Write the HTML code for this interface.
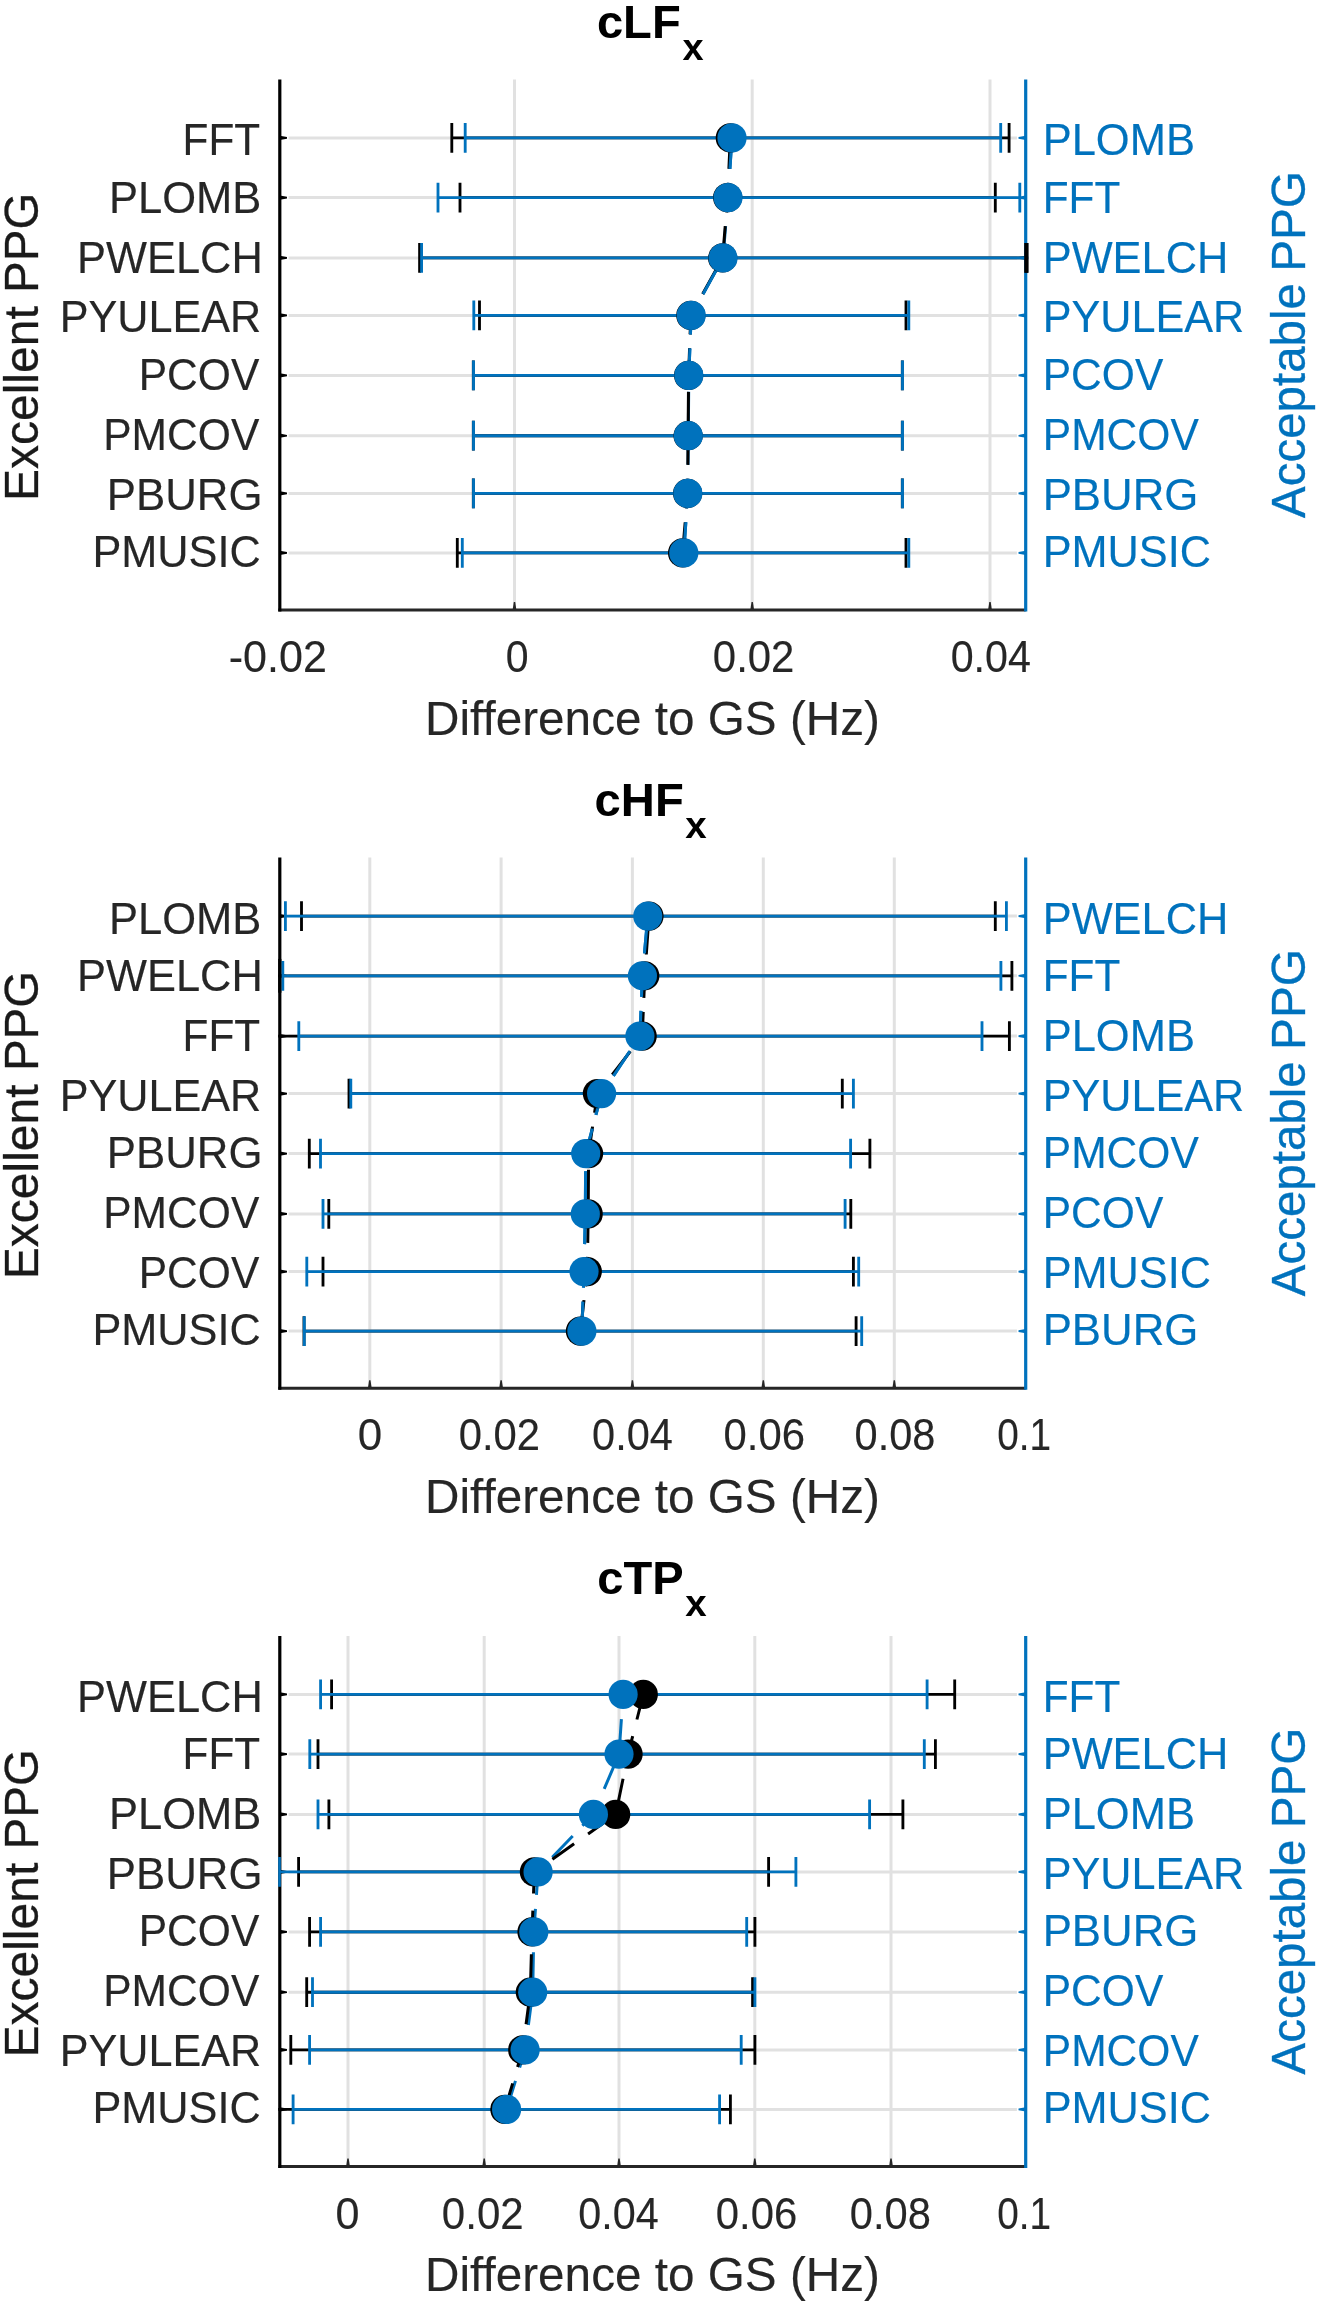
<!DOCTYPE html>
<html><head><meta charset="utf-8"><title>chart</title>
<style>html,body{margin:0;padding:0;background:#fff}svg{display:block}text{font-family:"Liberation Sans",sans-serif;white-space:pre}</style></head>
<body>
<svg width="1319" height="2305" viewBox="0 0 1319 2305" font-family="'Liberation Sans', sans-serif">
<rect width="1319" height="2305" fill="#ffffff"/>
<defs><filter id="soft" x="0" y="0" width="100%" height="100%" filterUnits="userSpaceOnUse" color-interpolation-filters="sRGB"><feGaussianBlur stdDeviation="0.4"/></filter><filter id="softT" x="0" y="0" width="100%" height="100%" filterUnits="userSpaceOnUse" color-interpolation-filters="sRGB"><feGaussianBlur stdDeviation="0.7"/></filter></defs>
<g filter="url(#soft)">
<rect width="1319" height="2305" fill="#ffffff"/>
<g id="panel1">
<g stroke="#e1e1e1" stroke-width="3.0" fill="none">
<line x1="514.5" y1="79.4" x2="514.5" y2="610.0"/>
<line x1="752.2" y1="79.4" x2="752.2" y2="610.0"/>
<line x1="990.0" y1="79.4" x2="990.0" y2="610.0"/>
<line x1="288.6" y1="137.9" x2="1016.9" y2="137.9"/>
<line x1="288.6" y1="197.6" x2="1016.9" y2="197.6"/>
<line x1="288.6" y1="257.9" x2="1016.9" y2="257.9"/>
<line x1="288.6" y1="315.4" x2="1016.9" y2="315.4"/>
<line x1="288.6" y1="375.4" x2="1016.9" y2="375.4"/>
<line x1="288.6" y1="435.7" x2="1016.9" y2="435.7"/>
<line x1="288.6" y1="493.4" x2="1016.9" y2="493.4"/>
<line x1="288.6" y1="552.9" x2="1016.9" y2="552.9"/>
</g>
<g stroke="#262626" stroke-width="3" fill="none" stroke-linecap="butt">
<line x1="278.3" y1="610.0" x2="1025.7" y2="610.0"/>
</g>
<g fill="#262626" stroke="none">
<polygon points="512.6,610.0 516.4,610.0 515.2,602.0 513.8,602.0"/>
<polygon points="750.3,610.0 754.1,610.0 752.9,602.0 751.5,602.0"/>
<polygon points="988.1,610.0 991.9,610.0 990.7,602.0 989.3,602.0"/>
</g>
<g stroke="#000000" fill="none">
<line x1="279.8" y1="79.4" x2="279.8" y2="611.5" stroke-width="3.2"/>
<polygon points="279.8,135.8 279.8,140.0 287.0,138.7 287.0,137.1" fill="#000000" stroke="none"/>
<polygon points="279.8,195.5 279.8,199.7 287.0,198.4 287.0,196.8" fill="#000000" stroke="none"/>
<polygon points="279.8,255.8 279.8,260.0 287.0,258.7 287.0,257.1" fill="#000000" stroke="none"/>
<polygon points="279.8,313.3 279.8,317.5 287.0,316.2 287.0,314.6" fill="#000000" stroke="none"/>
<polygon points="279.8,373.3 279.8,377.5 287.0,376.2 287.0,374.6" fill="#000000" stroke="none"/>
<polygon points="279.8,433.6 279.8,437.8 287.0,436.5 287.0,434.9" fill="#000000" stroke="none"/>
<polygon points="279.8,491.3 279.8,495.5 287.0,494.2 287.0,492.6" fill="#000000" stroke="none"/>
<polygon points="279.8,550.8 279.8,555.0 287.0,553.7 287.0,552.1" fill="#000000" stroke="none"/>
</g>
<g stroke="#0072BD" fill="none">
<line x1="1025.7" y1="79.4" x2="1025.7" y2="611.5" stroke-width="3.2"/>
<polygon points="1025.7,135.8 1025.7,140.0 1018.5,138.7 1018.5,137.1" fill="#0072BD" stroke="none"/>
<polygon points="1025.7,195.5 1025.7,199.7 1018.5,198.4 1018.5,196.8" fill="#0072BD" stroke="none"/>
<polygon points="1025.7,255.8 1025.7,260.0 1018.5,258.7 1018.5,257.1" fill="#0072BD" stroke="none"/>
<polygon points="1025.7,313.3 1025.7,317.5 1018.5,316.2 1018.5,314.6" fill="#0072BD" stroke="none"/>
<polygon points="1025.7,373.3 1025.7,377.5 1018.5,376.2 1018.5,374.6" fill="#0072BD" stroke="none"/>
<polygon points="1025.7,433.6 1025.7,437.8 1018.5,436.5 1018.5,434.9" fill="#0072BD" stroke="none"/>
<polygon points="1025.7,491.3 1025.7,495.5 1018.5,494.2 1018.5,492.6" fill="#0072BD" stroke="none"/>
<polygon points="1025.7,550.8 1025.7,555.0 1018.5,553.7 1018.5,552.1" fill="#0072BD" stroke="none"/>
</g>
<clipPath id="clip0"><rect x="278.2" y="79.4" width="750.1" height="530.6"/></clipPath>
<g clip-path="url(#clip0)">
<g stroke="#000000" fill="none" stroke-width="2.85">
<path d="M451.8 137.9H1009.1M451.8 123.0V152.8M1009.1 123.0V152.8"/>
<path d="M460.0 197.6H995.3M460.0 182.7V212.5M995.3 182.7V212.5"/>
<path d="M419.6 257.9H1026.6M419.6 243.0V272.8M1026.6 243.0V272.8"/>
<path d="M479.5 315.4H906.0M479.5 300.5V330.3M906.0 300.5V330.3"/>
<path d="M473.3 375.4H902.3M473.3 360.5V390.3M902.3 360.5V390.3"/>
<path d="M473.3 435.7H902.3M473.3 420.8V450.6M902.3 420.8V450.6"/>
<path d="M473.3 493.4H902.3M473.3 478.5V508.3M902.3 478.5V508.3"/>
<path d="M457.3 552.9H906.0M457.3 538.0V567.8M906.0 538.0V567.8"/>
</g>
<g stroke="#0072BD" fill="none" stroke-width="2.85">
<path d="M465.2 137.9H1000.7M465.2 123.0V152.8M1000.7 123.0V152.8"/>
<path d="M438.0 197.6H1019.8M438.0 182.7V212.5M1019.8 182.7V212.5"/>
<path d="M421.6 257.9H1034.0M421.6 243.0V272.8M1034.0 243.0V272.8"/>
<path d="M473.8 315.4H908.8M473.8 300.5V330.3M908.8 300.5V330.3"/>
<path d="M473.5 375.4H902.5M473.5 360.5V390.3M902.5 360.5V390.3"/>
<path d="M473.5 435.7H902.5M473.5 420.8V450.6M902.5 420.8V450.6"/>
<path d="M473.5 493.4H902.5M473.5 478.5V508.3M902.5 478.5V508.3"/>
<path d="M462.3 552.9H908.8M462.3 538.0V567.8M908.8 538.0V567.8"/>
</g>
<polyline points="732.0,137.9 728.0,197.6 723.0,257.9 691.2,315.4 688.8,375.4 688.3,435.7 687.8,493.4 683.8,552.9" fill="none" stroke="#0072BD" stroke-width="3.0" stroke-dasharray="29.5 14" stroke-dashoffset="-1.5"/>
<polyline points="730.3,137.9 727.6,197.6 722.6,257.9 690.8,315.4 688.6,375.4 688.1,435.7 687.6,493.4 682.6,552.9" fill="none" stroke="#000000" stroke-width="3.0" stroke-dasharray="29.5 14" stroke-dashoffset="-1.5"/>
<clipPath id="bl0"><rect x="279.8" y="137.9" width="745.9000000000001" height="59.7"/><rect x="279.8" y="257.9" width="745.9000000000001" height="57.5"/><rect x="279.8" y="315.4" width="745.9000000000001" height="60.0"/><rect x="279.8" y="493.4" width="745.9000000000001" height="59.5"/></clipPath>
<g clip-path="url(#bl0)"><polyline points="732.0,137.9 728.0,197.6 723.0,257.9 691.2,315.4 688.8,375.4 688.3,435.7 687.8,493.4 683.8,552.9" fill="none" stroke="#0072BD" stroke-width="3.0" stroke-dasharray="29.5 14" stroke-dashoffset="-1.5"/></g>
<g fill="#000000" stroke="none">
<circle cx="730.3" cy="137.9" r="14.6"/>
<circle cx="727.6" cy="197.6" r="14.6"/>
<circle cx="722.6" cy="257.9" r="14.6"/>
<circle cx="690.8" cy="315.4" r="14.6"/>
<circle cx="688.6" cy="375.4" r="14.6"/>
<circle cx="688.1" cy="435.7" r="14.6"/>
<circle cx="687.6" cy="493.4" r="14.6"/>
<circle cx="682.6" cy="552.9" r="14.6"/>
</g>
<g fill="#0072BD" stroke="none">
<circle cx="732.0" cy="137.9" r="14.6"/>
<circle cx="728.0" cy="197.6" r="14.6"/>
<circle cx="723.0" cy="257.9" r="14.6"/>
<circle cx="691.2" cy="315.4" r="14.6"/>
<circle cx="688.8" cy="375.4" r="14.6"/>
<circle cx="688.3" cy="435.7" r="14.6"/>
<circle cx="687.8" cy="493.4" r="14.6"/>
<circle cx="683.8" cy="552.9" r="14.6"/>
</g>
</g>
<line x1="1026.4" y1="243.0" x2="1026.4" y2="272.8" stroke="#000000" stroke-width="4.4"/>
<g filter="url(#softT)">
<text transform="translate(596.90,37.90) scale(1.0288,1.0)" font-size="45.83" fill="#000000" font-weight="bold">cLF</text>
<text transform="translate(682.55,59.90) scale(1.0123,0.97)" font-size="37.5" fill="#000000" font-weight="bold">x</text>
<text transform="translate(182.57,155.40) scale(1.0156,1.08)" font-size="41.67" fill="#262626" stroke="#262626" stroke-width="0.15">FFT</text>
<text transform="translate(109.07,212.80) scale(1.0441,1.08)" font-size="41.67" fill="#262626" stroke="#262626" stroke-width="0.15">PLOMB</text>
<text transform="translate(77.08,272.60) scale(1.0418,1.08)" font-size="41.67" fill="#262626" stroke="#262626" stroke-width="0.15">PWELCH</text>
<text transform="translate(59.70,332.40) scale(1.0359,1.08)" font-size="41.67" fill="#262626" stroke="#262626" stroke-width="0.15">PYULEAR</text>
<text transform="translate(138.75,389.80) scale(1.0207,1.08)" font-size="41.67" fill="#262626" stroke="#262626" stroke-width="0.15">PCOV</text>
<text transform="translate(103.15,449.60) scale(1.0222,1.08)" font-size="41.67" fill="#262626" stroke="#262626" stroke-width="0.15">PMCOV</text>
<text transform="translate(106.75,509.50) scale(1.0512,1.08)" font-size="41.67" fill="#262626" stroke="#262626" stroke-width="0.15">PBURG</text>
<text transform="translate(92.39,566.90) scale(1.0390,1.08)" font-size="41.67" fill="#262626" stroke="#262626" stroke-width="0.15">PMUSIC</text>
<text transform="translate(1042.67,155.40) scale(1.0441,1.08)" font-size="41.67" fill="#0072BD" stroke="#0072BD" stroke-width="0.15">PLOMB</text>
<text transform="translate(1042.77,212.80) scale(1.0156,1.08)" font-size="41.67" fill="#0072BD" stroke="#0072BD" stroke-width="0.15">FFT</text>
<text transform="translate(1042.68,272.60) scale(1.0418,1.08)" font-size="41.67" fill="#0072BD" stroke="#0072BD" stroke-width="0.15">PWELCH</text>
<text transform="translate(1042.70,332.40) scale(1.0359,1.08)" font-size="41.67" fill="#0072BD" stroke="#0072BD" stroke-width="0.15">PYULEAR</text>
<text transform="translate(1042.75,389.80) scale(1.0207,1.08)" font-size="41.67" fill="#0072BD" stroke="#0072BD" stroke-width="0.15">PCOV</text>
<text transform="translate(1042.75,449.60) scale(1.0222,1.08)" font-size="41.67" fill="#0072BD" stroke="#0072BD" stroke-width="0.15">PMCOV</text>
<text transform="translate(1042.65,509.50) scale(1.0512,1.08)" font-size="41.67" fill="#0072BD" stroke="#0072BD" stroke-width="0.15">PBURG</text>
<text transform="translate(1042.69,566.90) scale(1.0390,1.08)" font-size="41.67" fill="#0072BD" stroke="#0072BD" stroke-width="0.15">PMUSIC</text>
<text transform="translate(228.76,672.10) scale(1.0340,1.08)" font-size="41.67" fill="#262626" stroke="#262626" stroke-width="0.15">-0.02</text>
<text transform="translate(505.70,672.10) scale(0.9851,1.08)" font-size="41.67" fill="#262626" stroke="#262626" stroke-width="0.15">0</text>
<text transform="translate(712.86,672.10) scale(1.0057,1.08)" font-size="41.67" fill="#262626" stroke="#262626" stroke-width="0.15">0.02</text>
<text transform="translate(950.69,672.10) scale(0.9893,1.08)" font-size="41.67" fill="#262626" stroke="#262626" stroke-width="0.15">0.04</text>
<text transform="translate(425.00,734.50) scale(1.0409,1.04)" font-size="45.83" fill="#262626" stroke="#262626" stroke-width="0.15">Difference to GS (Hz)</text>
<text transform="translate(37.90,292.88) rotate(-90) scale(1.0350,1.05)" font-size="45.83" fill="#1a1a1a" stroke="#1a1a1a" stroke-width="0.3">PPG</text>
<text transform="translate(37.90,501.03) rotate(-90) scale(1.0477,1.05)" font-size="45.83" fill="#1a1a1a" stroke="#1a1a1a" stroke-width="0.3">Excellent</text>
<text transform="translate(1305.40,271.69) rotate(-90) scale(1.0395,1.05)" font-size="45.83" fill="#0072BD" stroke="#0072BD" stroke-width="0.3">PPG</text>
<text transform="translate(1305.40,518.03) rotate(-90) scale(1.0367,1.05)" font-size="45.83" fill="#0072BD" stroke="#0072BD" stroke-width="0.3">Acceptable</text>
</g>
</g>
<g id="panel2">
<g stroke="#e1e1e1" stroke-width="3.0" fill="none">
<line x1="369.8" y1="857.6" x2="369.8" y2="1388.2"/>
<line x1="501.1" y1="857.6" x2="501.1" y2="1388.2"/>
<line x1="632.4" y1="857.6" x2="632.4" y2="1388.2"/>
<line x1="763.3" y1="857.6" x2="763.3" y2="1388.2"/>
<line x1="894.3" y1="857.6" x2="894.3" y2="1388.2"/>
<line x1="288.6" y1="916.1" x2="1016.9" y2="916.1"/>
<line x1="288.6" y1="975.8" x2="1016.9" y2="975.8"/>
<line x1="288.6" y1="1036.1" x2="1016.9" y2="1036.1"/>
<line x1="288.6" y1="1093.6" x2="1016.9" y2="1093.6"/>
<line x1="288.6" y1="1153.6" x2="1016.9" y2="1153.6"/>
<line x1="288.6" y1="1213.9" x2="1016.9" y2="1213.9"/>
<line x1="288.6" y1="1271.6" x2="1016.9" y2="1271.6"/>
<line x1="288.6" y1="1331.1" x2="1016.9" y2="1331.1"/>
</g>
<g stroke="#262626" stroke-width="3" fill="none" stroke-linecap="butt">
<line x1="278.3" y1="1388.2" x2="1025.7" y2="1388.2"/>
</g>
<g fill="#262626" stroke="none">
<polygon points="367.9,1388.2 371.7,1388.2 370.5,1380.2 369.1,1380.2"/>
<polygon points="499.2,1388.2 503.0,1388.2 501.8,1380.2 500.4,1380.2"/>
<polygon points="630.5,1388.2 634.3,1388.2 633.1,1380.2 631.7,1380.2"/>
<polygon points="761.4,1388.2 765.2,1388.2 764.0,1380.2 762.6,1380.2"/>
<polygon points="892.4,1388.2 896.2,1388.2 895.0,1380.2 893.6,1380.2"/>
</g>
<g stroke="#000000" fill="none">
<line x1="279.8" y1="857.6" x2="279.8" y2="1389.7" stroke-width="3.2"/>
<polygon points="279.8,914.0 279.8,918.2 287.0,916.9 287.0,915.3" fill="#000000" stroke="none"/>
<polygon points="279.8,973.7 279.8,977.9 287.0,976.6 287.0,975.0" fill="#000000" stroke="none"/>
<polygon points="279.8,1034.0 279.8,1038.2 287.0,1036.9 287.0,1035.3" fill="#000000" stroke="none"/>
<polygon points="279.8,1091.5 279.8,1095.7 287.0,1094.4 287.0,1092.8" fill="#000000" stroke="none"/>
<polygon points="279.8,1151.5 279.8,1155.7 287.0,1154.4 287.0,1152.8" fill="#000000" stroke="none"/>
<polygon points="279.8,1211.8 279.8,1216.0 287.0,1214.7 287.0,1213.1" fill="#000000" stroke="none"/>
<polygon points="279.8,1269.5 279.8,1273.7 287.0,1272.4 287.0,1270.8" fill="#000000" stroke="none"/>
<polygon points="279.8,1329.0 279.8,1333.2 287.0,1331.9 287.0,1330.3" fill="#000000" stroke="none"/>
</g>
<g stroke="#0072BD" fill="none">
<line x1="1025.7" y1="857.6" x2="1025.7" y2="1389.7" stroke-width="3.2"/>
<polygon points="1025.7,914.0 1025.7,918.2 1018.5,916.9 1018.5,915.3" fill="#0072BD" stroke="none"/>
<polygon points="1025.7,973.7 1025.7,977.9 1018.5,976.6 1018.5,975.0" fill="#0072BD" stroke="none"/>
<polygon points="1025.7,1034.0 1025.7,1038.2 1018.5,1036.9 1018.5,1035.3" fill="#0072BD" stroke="none"/>
<polygon points="1025.7,1091.5 1025.7,1095.7 1018.5,1094.4 1018.5,1092.8" fill="#0072BD" stroke="none"/>
<polygon points="1025.7,1151.5 1025.7,1155.7 1018.5,1154.4 1018.5,1152.8" fill="#0072BD" stroke="none"/>
<polygon points="1025.7,1211.8 1025.7,1216.0 1018.5,1214.7 1018.5,1213.1" fill="#0072BD" stroke="none"/>
<polygon points="1025.7,1269.5 1025.7,1273.7 1018.5,1272.4 1018.5,1270.8" fill="#0072BD" stroke="none"/>
<polygon points="1025.7,1329.0 1025.7,1333.2 1018.5,1331.9 1018.5,1330.3" fill="#0072BD" stroke="none"/>
</g>
<clipPath id="clip1"><rect x="278.2" y="857.6" width="750.1" height="530.6"/></clipPath>
<g clip-path="url(#clip1)">
<g stroke="#000000" fill="none" stroke-width="2.85">
<path d="M301.5 916.1H995.3M301.5 901.2V931.0M995.3 901.2V931.0"/>
<path d="M270.0 975.8H1011.9M270.0 960.9V990.7M1011.9 960.9V990.7"/>
<path d="M268.0 1036.1H1009.4M268.0 1021.2V1051.0M1009.4 1021.2V1051.0"/>
<path d="M349.0 1093.6H842.3M349.0 1078.7V1108.5M842.3 1078.7V1108.5"/>
<path d="M309.3 1153.6H869.9M309.3 1138.7V1168.5M869.9 1138.7V1168.5"/>
<path d="M328.8 1213.9H850.8M328.8 1199.0V1228.8M850.8 1199.0V1228.8"/>
<path d="M323.0 1271.6H853.4M323.0 1256.7V1286.5M853.4 1256.7V1286.5"/>
<path d="M304.0 1331.1H856.1M304.0 1316.2V1346.0M856.1 1316.2V1346.0"/>
</g>
<g stroke="#0072BD" fill="none" stroke-width="2.85">
<path d="M285.4 916.1H1006.4M285.4 901.2V931.0M1006.4 901.2V931.0"/>
<path d="M282.8 975.8H1000.9M282.8 960.9V990.7M1000.9 960.9V990.7"/>
<path d="M298.8 1036.1H982.0M298.8 1021.2V1051.0M982.0 1021.2V1051.0"/>
<path d="M350.8 1093.6H853.4M350.8 1078.7V1108.5M853.4 1078.7V1108.5"/>
<path d="M320.5 1153.6H850.6M320.5 1138.7V1168.5M850.6 1138.7V1168.5"/>
<path d="M323.0 1213.9H845.1M323.0 1199.0V1228.8M845.1 1199.0V1228.8"/>
<path d="M306.8 1271.6H858.7M306.8 1256.7V1286.5M858.7 1256.7V1286.5"/>
<path d="M304.3 1331.1H861.7M304.3 1316.2V1346.0M861.7 1316.2V1346.0"/>
</g>
<polyline points="647.8,916.1 642.4,975.8 639.9,1036.1 601.6,1093.6 585.7,1153.6 585.3,1213.9 584.0,1271.6 581.9,1331.1" fill="none" stroke="#0072BD" stroke-width="3.0" stroke-dasharray="29.5 14" stroke-dashoffset="-8"/>
<polyline points="649.0,916.1 644.8,975.8 642.2,1036.1 597.4,1093.6 588.6,1153.6 588.2,1213.9 587.3,1271.6 580.4,1331.1" fill="none" stroke="#000000" stroke-width="3.0" stroke-dasharray="29.5 14" stroke-dashoffset="-9"/>
<clipPath id="bl1"><rect x="279.8" y="916.1" width="745.9000000000001" height="59.7"/><rect x="279.8" y="975.8" width="745.9000000000001" height="60.3"/><rect x="279.8" y="1036.1" width="745.9000000000001" height="57.5"/><rect x="279.8" y="1093.6" width="745.9000000000001" height="60.0"/><rect x="279.8" y="1153.6" width="745.9000000000001" height="60.3"/><rect x="279.8" y="1213.9" width="745.9000000000001" height="57.7"/><rect x="279.8" y="1271.6" width="745.9000000000001" height="59.5"/></clipPath>
<g clip-path="url(#bl1)"><polyline points="647.8,916.1 642.4,975.8 639.9,1036.1 601.6,1093.6 585.7,1153.6 585.3,1213.9 584.0,1271.6 581.9,1331.1" fill="none" stroke="#0072BD" stroke-width="3.0" stroke-dasharray="29.5 14" stroke-dashoffset="-8"/></g>
<g fill="#000000" stroke="none">
<circle cx="649.0" cy="916.1" r="14.6"/>
<circle cx="644.8" cy="975.8" r="14.6"/>
<circle cx="642.2" cy="1036.1" r="14.6"/>
<circle cx="597.4" cy="1093.6" r="14.6"/>
<circle cx="588.6" cy="1153.6" r="14.6"/>
<circle cx="588.2" cy="1213.9" r="14.6"/>
<circle cx="587.3" cy="1271.6" r="14.6"/>
<circle cx="580.4" cy="1331.1" r="14.6"/>
</g>
<g fill="#0072BD" stroke="none">
<circle cx="647.8" cy="916.1" r="14.6"/>
<circle cx="642.4" cy="975.8" r="14.6"/>
<circle cx="639.9" cy="1036.1" r="14.6"/>
<circle cx="601.6" cy="1093.6" r="14.6"/>
<circle cx="585.7" cy="1153.6" r="14.6"/>
<circle cx="585.3" cy="1213.9" r="14.6"/>
<circle cx="584.0" cy="1271.6" r="14.6"/>
<circle cx="581.9" cy="1331.1" r="14.6"/>
</g>
</g>
<line x1="279.8" y1="958.9" x2="279.8" y2="992.7" stroke="#000000" stroke-width="3.2"/>
<g filter="url(#softT)">
<text transform="translate(594.60,816.10) scale(1.0304,1.0)" font-size="45.83" fill="#000000" font-weight="bold">cHF</text>
<text transform="translate(685.24,838.10) scale(1.0272,0.97)" font-size="37.5" fill="#000000" font-weight="bold">x</text>
<text transform="translate(109.07,933.60) scale(1.0441,1.08)" font-size="41.67" fill="#262626" stroke="#262626" stroke-width="0.15">PLOMB</text>
<text transform="translate(77.08,991.00) scale(1.0418,1.08)" font-size="41.67" fill="#262626" stroke="#262626" stroke-width="0.15">PWELCH</text>
<text transform="translate(182.57,1050.80) scale(1.0156,1.08)" font-size="41.67" fill="#262626" stroke="#262626" stroke-width="0.15">FFT</text>
<text transform="translate(59.70,1110.60) scale(1.0359,1.08)" font-size="41.67" fill="#262626" stroke="#262626" stroke-width="0.15">PYULEAR</text>
<text transform="translate(106.75,1168.00) scale(1.0512,1.08)" font-size="41.67" fill="#262626" stroke="#262626" stroke-width="0.15">PBURG</text>
<text transform="translate(103.15,1227.80) scale(1.0222,1.08)" font-size="41.67" fill="#262626" stroke="#262626" stroke-width="0.15">PMCOV</text>
<text transform="translate(138.75,1287.70) scale(1.0207,1.08)" font-size="41.67" fill="#262626" stroke="#262626" stroke-width="0.15">PCOV</text>
<text transform="translate(92.39,1345.10) scale(1.0390,1.08)" font-size="41.67" fill="#262626" stroke="#262626" stroke-width="0.15">PMUSIC</text>
<text transform="translate(1042.68,933.60) scale(1.0418,1.08)" font-size="41.67" fill="#0072BD" stroke="#0072BD" stroke-width="0.15">PWELCH</text>
<text transform="translate(1042.77,991.00) scale(1.0156,1.08)" font-size="41.67" fill="#0072BD" stroke="#0072BD" stroke-width="0.15">FFT</text>
<text transform="translate(1042.67,1050.80) scale(1.0441,1.08)" font-size="41.67" fill="#0072BD" stroke="#0072BD" stroke-width="0.15">PLOMB</text>
<text transform="translate(1042.70,1110.60) scale(1.0359,1.08)" font-size="41.67" fill="#0072BD" stroke="#0072BD" stroke-width="0.15">PYULEAR</text>
<text transform="translate(1042.75,1168.00) scale(1.0222,1.08)" font-size="41.67" fill="#0072BD" stroke="#0072BD" stroke-width="0.15">PMCOV</text>
<text transform="translate(1042.75,1227.80) scale(1.0207,1.08)" font-size="41.67" fill="#0072BD" stroke="#0072BD" stroke-width="0.15">PCOV</text>
<text transform="translate(1042.69,1287.70) scale(1.0390,1.08)" font-size="41.67" fill="#0072BD" stroke="#0072BD" stroke-width="0.15">PMUSIC</text>
<text transform="translate(1042.65,1345.10) scale(1.0512,1.08)" font-size="41.67" fill="#0072BD" stroke="#0072BD" stroke-width="0.15">PBURG</text>
<text transform="translate(357.78,1450.30) scale(1.0555,1.08)" font-size="41.67" fill="#262626" stroke="#262626" stroke-width="0.15">0</text>
<text transform="translate(458.77,1450.30) scale(1.0031,1.08)" font-size="41.67" fill="#262626" stroke="#262626" stroke-width="0.15">0.02</text>
<text transform="translate(592.08,1450.30) scale(0.9957,1.08)" font-size="41.67" fill="#262626" stroke="#262626" stroke-width="0.15">0.04</text>
<text transform="translate(723.57,1450.30) scale(1.0037,1.08)" font-size="41.67" fill="#262626" stroke="#262626" stroke-width="0.15">0.06</text>
<text transform="translate(854.58,1450.30) scale(0.9973,1.08)" font-size="41.67" fill="#262626" stroke="#262626" stroke-width="0.15">0.08</text>
<text transform="translate(997.19,1450.30) scale(0.9299,1.08)" font-size="41.67" fill="#262626" stroke="#262626" stroke-width="0.15">0.1</text>
<text transform="translate(425.00,1512.70) scale(1.0409,1.04)" font-size="45.83" fill="#262626" stroke="#262626" stroke-width="0.15">Difference to GS (Hz)</text>
<text transform="translate(37.90,1071.08) rotate(-90) scale(1.0350,1.05)" font-size="45.83" fill="#1a1a1a" stroke="#1a1a1a" stroke-width="0.3">PPG</text>
<text transform="translate(37.90,1279.23) rotate(-90) scale(1.0477,1.05)" font-size="45.83" fill="#1a1a1a" stroke="#1a1a1a" stroke-width="0.3">Excellent</text>
<text transform="translate(1305.40,1049.89) rotate(-90) scale(1.0395,1.05)" font-size="45.83" fill="#0072BD" stroke="#0072BD" stroke-width="0.3">PPG</text>
<text transform="translate(1305.40,1296.23) rotate(-90) scale(1.0367,1.05)" font-size="45.83" fill="#0072BD" stroke="#0072BD" stroke-width="0.3">Acceptable</text>
</g>
</g>
<g id="panel3">
<g stroke="#e1e1e1" stroke-width="3.0" fill="none">
<line x1="348.0" y1="1635.9" x2="348.0" y2="2166.5"/>
<line x1="484.2" y1="1635.9" x2="484.2" y2="2166.5"/>
<line x1="619.0" y1="1635.9" x2="619.0" y2="2166.5"/>
<line x1="754.8" y1="1635.9" x2="754.8" y2="2166.5"/>
<line x1="891.0" y1="1635.9" x2="891.0" y2="2166.5"/>
<line x1="288.6" y1="1694.4" x2="1016.9" y2="1694.4"/>
<line x1="288.6" y1="1754.1" x2="1016.9" y2="1754.1"/>
<line x1="288.6" y1="1814.4" x2="1016.9" y2="1814.4"/>
<line x1="288.6" y1="1871.9" x2="1016.9" y2="1871.9"/>
<line x1="288.6" y1="1931.9" x2="1016.9" y2="1931.9"/>
<line x1="288.6" y1="1992.2" x2="1016.9" y2="1992.2"/>
<line x1="288.6" y1="2049.9" x2="1016.9" y2="2049.9"/>
<line x1="288.6" y1="2109.4" x2="1016.9" y2="2109.4"/>
</g>
<g stroke="#262626" stroke-width="3" fill="none" stroke-linecap="butt">
<line x1="278.3" y1="2166.5" x2="1025.7" y2="2166.5"/>
</g>
<g fill="#262626" stroke="none">
<polygon points="346.1,2166.5 349.9,2166.5 348.7,2158.5 347.3,2158.5"/>
<polygon points="482.3,2166.5 486.1,2166.5 484.9,2158.5 483.5,2158.5"/>
<polygon points="617.1,2166.5 620.9,2166.5 619.7,2158.5 618.3,2158.5"/>
<polygon points="752.9,2166.5 756.7,2166.5 755.5,2158.5 754.1,2158.5"/>
<polygon points="889.1,2166.5 892.9,2166.5 891.7,2158.5 890.3,2158.5"/>
</g>
<g stroke="#000000" fill="none">
<line x1="279.8" y1="1635.9" x2="279.8" y2="2168.0" stroke-width="3.2"/>
<polygon points="279.8,1692.3 279.8,1696.5 287.0,1695.2 287.0,1693.6" fill="#000000" stroke="none"/>
<polygon points="279.8,1752.0 279.8,1756.2 287.0,1754.9 287.0,1753.3" fill="#000000" stroke="none"/>
<polygon points="279.8,1812.3 279.8,1816.5 287.0,1815.2 287.0,1813.6" fill="#000000" stroke="none"/>
<polygon points="279.8,1869.8 279.8,1874.0 287.0,1872.7 287.0,1871.1" fill="#000000" stroke="none"/>
<polygon points="279.8,1929.8 279.8,1934.0 287.0,1932.7 287.0,1931.1" fill="#000000" stroke="none"/>
<polygon points="279.8,1990.1 279.8,1994.3 287.0,1993.0 287.0,1991.4" fill="#000000" stroke="none"/>
<polygon points="279.8,2047.8 279.8,2052.0 287.0,2050.7 287.0,2049.1" fill="#000000" stroke="none"/>
<polygon points="279.8,2107.3 279.8,2111.5 287.0,2110.2 287.0,2108.6" fill="#000000" stroke="none"/>
</g>
<g stroke="#0072BD" fill="none">
<line x1="1025.7" y1="1635.9" x2="1025.7" y2="2168.0" stroke-width="3.2"/>
<polygon points="1025.7,1692.3 1025.7,1696.5 1018.5,1695.2 1018.5,1693.6" fill="#0072BD" stroke="none"/>
<polygon points="1025.7,1752.0 1025.7,1756.2 1018.5,1754.9 1018.5,1753.3" fill="#0072BD" stroke="none"/>
<polygon points="1025.7,1812.3 1025.7,1816.5 1018.5,1815.2 1018.5,1813.6" fill="#0072BD" stroke="none"/>
<polygon points="1025.7,1869.8 1025.7,1874.0 1018.5,1872.7 1018.5,1871.1" fill="#0072BD" stroke="none"/>
<polygon points="1025.7,1929.8 1025.7,1934.0 1018.5,1932.7 1018.5,1931.1" fill="#0072BD" stroke="none"/>
<polygon points="1025.7,1990.1 1025.7,1994.3 1018.5,1993.0 1018.5,1991.4" fill="#0072BD" stroke="none"/>
<polygon points="1025.7,2047.8 1025.7,2052.0 1018.5,2050.7 1018.5,2049.1" fill="#0072BD" stroke="none"/>
<polygon points="1025.7,2107.3 1025.7,2111.5 1018.5,2110.2 1018.5,2108.6" fill="#0072BD" stroke="none"/>
</g>
<clipPath id="clip2"><rect x="278.2" y="1635.9" width="750.1" height="530.6"/></clipPath>
<g clip-path="url(#clip2)">
<g stroke="#000000" fill="none" stroke-width="2.85">
<path d="M331.6 1694.4H954.7M331.6 1679.5V1709.3M954.7 1679.5V1709.3"/>
<path d="M318.0 1754.1H935.4M318.0 1739.2V1769.0M935.4 1739.2V1769.0"/>
<path d="M328.9 1814.4H902.9M328.9 1799.5V1829.3M902.9 1799.5V1829.3"/>
<path d="M298.6 1871.9H768.6M298.6 1857.0V1886.8M768.6 1857.0V1886.8"/>
<path d="M309.6 1931.9H754.9M309.6 1917.0V1946.8M754.9 1917.0V1946.8"/>
<path d="M306.7 1992.2H752.6M306.7 1977.3V2007.1M752.6 1977.3V2007.1"/>
<path d="M290.8 2049.9H754.9M290.8 2035.0V2064.8M754.9 2035.0V2064.8"/>
<path d="M262.0 2109.4H730.4M262.0 2094.5V2124.3M730.4 2094.5V2124.3"/>
</g>
<g stroke="#0072BD" fill="none" stroke-width="2.85">
<path d="M320.6 1694.4H927.1M320.6 1679.5V1709.3M927.1 1679.5V1709.3"/>
<path d="M309.8 1754.1H924.3M309.8 1739.2V1769.0M924.3 1739.2V1769.0"/>
<path d="M318.0 1814.4H869.6M318.0 1799.5V1829.3M869.6 1799.5V1829.3"/>
<path d="M279.4 1871.9H795.9M279.4 1857.0V1886.8M795.9 1857.0V1886.8"/>
<path d="M320.6 1931.9H746.7M320.6 1917.0V1946.8M746.7 1917.0V1946.8"/>
<path d="M312.5 1992.2H754.9M312.5 1977.3V2007.1M754.9 1977.3V2007.1"/>
<path d="M309.6 2049.9H741.2M309.6 2035.0V2064.8M741.2 2035.0V2064.8"/>
<path d="M293.1 2109.4H719.6M293.1 2094.5V2124.3M719.6 2094.5V2124.3"/>
</g>
<polyline points="623.1,1694.4 619.0,1754.1 593.4,1814.4 538.1,1871.9 533.8,1931.9 532.7,1992.2 525.1,2049.9 506.6,2109.4" fill="none" stroke="#0072BD" stroke-width="3.0" stroke-dasharray="29.5 14" stroke-dashoffset="18.8"/>
<polyline points="643.3,1694.4 628.1,1754.1 615.7,1814.4 534.4,1871.9 532.0,1931.9 530.3,1992.2 522.7,2049.9 504.9,2109.4" fill="none" stroke="#000000" stroke-width="3.0" stroke-dasharray="26.6 17.1" stroke-dashoffset="0.7"/>
<g fill="#000000" stroke="none">
<circle cx="643.3" cy="1694.4" r="14.6"/>
<circle cx="628.1" cy="1754.1" r="14.6"/>
<circle cx="615.7" cy="1814.4" r="14.6"/>
<circle cx="534.4" cy="1871.9" r="14.6"/>
<circle cx="532.0" cy="1931.9" r="14.6"/>
<circle cx="530.3" cy="1992.2" r="14.6"/>
<circle cx="522.7" cy="2049.9" r="14.6"/>
<circle cx="504.9" cy="2109.4" r="14.6"/>
</g>
<g fill="#0072BD" stroke="none">
<circle cx="623.1" cy="1694.4" r="14.6"/>
<circle cx="619.0" cy="1754.1" r="14.6"/>
<circle cx="593.4" cy="1814.4" r="14.6"/>
<circle cx="538.1" cy="1871.9" r="14.6"/>
<circle cx="533.8" cy="1931.9" r="14.6"/>
<circle cx="532.7" cy="1992.2" r="14.6"/>
<circle cx="525.1" cy="2049.9" r="14.6"/>
<circle cx="506.6" cy="2109.4" r="14.6"/>
</g>
</g>
<g filter="url(#softT)">
<text transform="translate(597.30,1594.40) scale(1.0289,1.0)" font-size="45.83" fill="#000000" font-weight="bold">cTP</text>
<text transform="translate(685.24,1616.40) scale(1.0272,0.97)" font-size="37.5" fill="#000000" font-weight="bold">x</text>
<text transform="translate(77.08,1711.90) scale(1.0418,1.08)" font-size="41.67" fill="#262626" stroke="#262626" stroke-width="0.15">PWELCH</text>
<text transform="translate(182.57,1769.30) scale(1.0156,1.08)" font-size="41.67" fill="#262626" stroke="#262626" stroke-width="0.15">FFT</text>
<text transform="translate(109.07,1829.10) scale(1.0441,1.08)" font-size="41.67" fill="#262626" stroke="#262626" stroke-width="0.15">PLOMB</text>
<text transform="translate(106.75,1888.90) scale(1.0512,1.08)" font-size="41.67" fill="#262626" stroke="#262626" stroke-width="0.15">PBURG</text>
<text transform="translate(138.75,1946.30) scale(1.0207,1.08)" font-size="41.67" fill="#262626" stroke="#262626" stroke-width="0.15">PCOV</text>
<text transform="translate(103.15,2006.10) scale(1.0222,1.08)" font-size="41.67" fill="#262626" stroke="#262626" stroke-width="0.15">PMCOV</text>
<text transform="translate(59.70,2066.00) scale(1.0359,1.08)" font-size="41.67" fill="#262626" stroke="#262626" stroke-width="0.15">PYULEAR</text>
<text transform="translate(92.39,2123.40) scale(1.0390,1.08)" font-size="41.67" fill="#262626" stroke="#262626" stroke-width="0.15">PMUSIC</text>
<text transform="translate(1042.77,1711.90) scale(1.0156,1.08)" font-size="41.67" fill="#0072BD" stroke="#0072BD" stroke-width="0.15">FFT</text>
<text transform="translate(1042.68,1769.30) scale(1.0418,1.08)" font-size="41.67" fill="#0072BD" stroke="#0072BD" stroke-width="0.15">PWELCH</text>
<text transform="translate(1042.67,1829.10) scale(1.0441,1.08)" font-size="41.67" fill="#0072BD" stroke="#0072BD" stroke-width="0.15">PLOMB</text>
<text transform="translate(1042.70,1888.90) scale(1.0359,1.08)" font-size="41.67" fill="#0072BD" stroke="#0072BD" stroke-width="0.15">PYULEAR</text>
<text transform="translate(1042.65,1946.30) scale(1.0512,1.08)" font-size="41.67" fill="#0072BD" stroke="#0072BD" stroke-width="0.15">PBURG</text>
<text transform="translate(1042.75,2006.10) scale(1.0207,1.08)" font-size="41.67" fill="#0072BD" stroke="#0072BD" stroke-width="0.15">PCOV</text>
<text transform="translate(1042.75,2066.00) scale(1.0222,1.08)" font-size="41.67" fill="#0072BD" stroke="#0072BD" stroke-width="0.15">PMCOV</text>
<text transform="translate(1042.69,2123.40) scale(1.0390,1.08)" font-size="41.67" fill="#0072BD" stroke="#0072BD" stroke-width="0.15">PMUSIC</text>
<text transform="translate(335.62,2228.60) scale(1.0354,1.08)" font-size="41.67" fill="#262626" stroke="#262626" stroke-width="0.15">0</text>
<text transform="translate(441.86,2228.60) scale(1.0096,1.08)" font-size="41.67" fill="#262626" stroke="#262626" stroke-width="0.15">0.02</text>
<text transform="translate(578.29,2228.60) scale(0.9919,1.08)" font-size="41.67" fill="#262626" stroke="#262626" stroke-width="0.15">0.04</text>
<text transform="translate(715.77,2228.60) scale(1.0037,1.08)" font-size="41.67" fill="#262626" stroke="#262626" stroke-width="0.15">0.06</text>
<text transform="translate(849.87,2228.60) scale(0.9999,1.08)" font-size="41.67" fill="#262626" stroke="#262626" stroke-width="0.15">0.08</text>
<text transform="translate(997.19,2228.60) scale(0.9299,1.08)" font-size="41.67" fill="#262626" stroke="#262626" stroke-width="0.15">0.1</text>
<text transform="translate(425.00,2291.00) scale(1.0409,1.04)" font-size="45.83" fill="#262626" stroke="#262626" stroke-width="0.15">Difference to GS (Hz)</text>
<text transform="translate(37.90,1849.38) rotate(-90) scale(1.0350,1.05)" font-size="45.83" fill="#1a1a1a" stroke="#1a1a1a" stroke-width="0.3">PPG</text>
<text transform="translate(37.90,2057.53) rotate(-90) scale(1.0477,1.05)" font-size="45.83" fill="#1a1a1a" stroke="#1a1a1a" stroke-width="0.3">Excellent</text>
<text transform="translate(1305.40,1828.19) rotate(-90) scale(1.0395,1.05)" font-size="45.83" fill="#0072BD" stroke="#0072BD" stroke-width="0.3">PPG</text>
<text transform="translate(1305.40,2074.53) rotate(-90) scale(1.0367,1.05)" font-size="45.83" fill="#0072BD" stroke="#0072BD" stroke-width="0.3">Acceptable</text>
</g>
</g>
</g>
</svg>
</body></html>
